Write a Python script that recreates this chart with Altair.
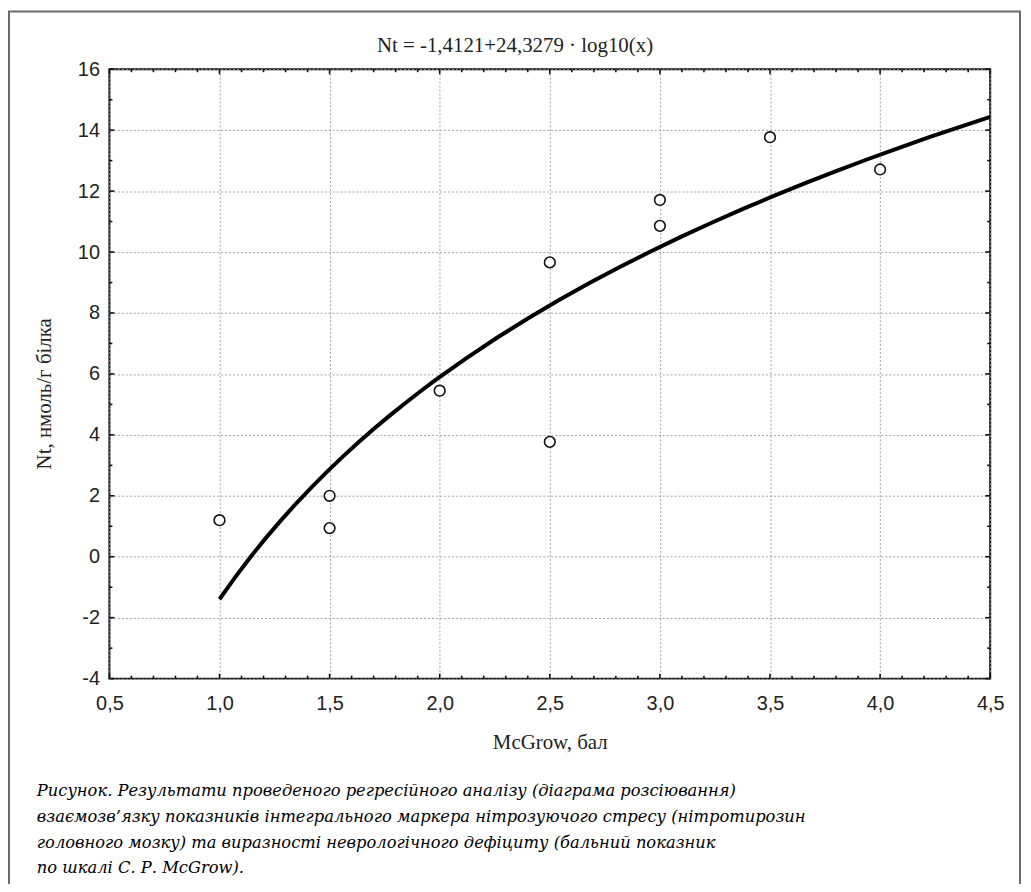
import altair as alt
import pandas as pd

# ---- data ----
mcgrow = [1.0, 1.5, 1.5, 2.0, 2.5, 2.5, 3.0, 3.0, 3.5, 4.0]
nt = [1.2, 2.0, 0.94, 5.45, 9.66, 3.77, 11.71, 10.86, 13.77, 12.71]

x_major = [0.5, 1.0, 1.5, 2.0, 2.5, 3.0, 3.5, 4.0, 4.5]
x_minor = [0.6, 0.7, 0.8, 0.9, 1.1, 1.2, 1.3, 1.4, 1.6, 1.7, 1.8, 1.9,
           2.1, 2.2, 2.3, 2.4, 2.6, 2.7, 2.8, 2.9, 3.1, 3.2, 3.3, 3.4,
           3.6, 3.7, 3.8, 3.9, 4.1, 4.2, 4.3, 4.4]
y_major = [-4, -2, 0, 2, 4, 6, 8, 10, 12, 14, 16]
y_minor = [-3, -1, 1, 3, 5, 7, 9, 11, 13, 15]

title_text = "Nt = -1,4121+24,3279 · log10(x)"
x_title = "McGrow, бал"
y_title = "Nt, нмоль/г білка"
caption_lines = [
    "Рисунок. Результати проведеного регресійного аналізу (діаграма розсіювання)",
    "взаємозв’язку показників інтегрального маркера нітрозуючого стресу (нітротирозин",
    "головного мозку) та виразності неврологічного дефіциту (бальний показник",
    "по шкалі С. Р. McGrow).",
]

W, H = 886, 613
PAD_L, PAD_T, PAD_R, PAD_B = 102, 59, 33, 204

xs = alt.Scale(domain=[0.5, 4.5], nice=False, zero=False)
ys = alt.Scale(domain=[-4, 16], nice=False, zero=False)

pts_df = pd.DataFrame({"x": mcgrow, "y": nt})
one = pd.DataFrame({"a": [0]})

x_axis = alt.Axis(
    values=x_major, title=x_title, grid=True, gridDash=[2, 2], gridColor="#a0a0a0",
    gridWidth=1, ticks=False, domain=False, labelFlush=False, labelOverlap=False,
    labelExpr="replace(format(datum.value, '.1f'), '.', ',')",
    labelFont="Liberation Sans", labelFontSize=20, labelColor="#222", labelPadding=15,
    titleFont="Liberation Serif", titleFontSize=21, titleFontWeight="normal", titleColor="#222",
    titleY=64, titleBaseline="middle",
)
y_axis = alt.Axis(
    values=y_major, title=y_title, grid=True, gridDash=[2, 2], gridColor="#a0a0a0",
    gridWidth=1, ticks=False, domain=False, labelFlush=False, labelOverlap=False,
    labelExpr="toString(datum.value)",
    labelFont="Liberation Sans", labelFontSize=20, labelColor="#222", labelPadding=10,
    titleFont="Liberation Serif", titleFontSize=21, titleFontWeight="normal", titleColor="#222",
    titleX=-65, titleY=326, titleAngle=-90, titleBaseline="middle", titleAlign="center",
)

X = alt.X("x:Q", scale=xs, axis=x_axis)
Y = alt.Y("y:Q", scale=ys, axis=y_axis)

curve = alt.Chart(pts_df).transform_regression(
    "x", "y", method="log", extent=[1.0, 4.5]
).mark_line(color="#000", strokeWidth=4, clip=True).encode(x=X, y=Y)

points = alt.Chart(pts_df).mark_point(
    shape="circle", filled=True, fill="white", stroke="#111", strokeWidth=1.6, size=115, opacity=1
).encode(x=X, y=Y)

xmaj_df = pd.DataFrame({"x": x_major})
xmin_df = pd.DataFrame({"x": x_minor})
ymaj_df = pd.DataFrame({"y": y_major})
ymin_df = pd.DataFrame({"y": y_minor})

def xticks(df, length):
    bot = alt.Chart(df).mark_rule(color="#111", strokeWidth=1.6).encode(
        x=X, y=alt.value(H), y2=alt.value(H - length))
    top = alt.Chart(df).mark_rule(color="#111", strokeWidth=1.6).encode(
        x=X, y=alt.value(0), y2=alt.value(length))
    return [bot, top]

def yticks(df, length):
    left = alt.Chart(df).mark_rule(color="#111", strokeWidth=1.6).encode(
        y=Y, x=alt.value(0), x2=alt.value(length))
    right = alt.Chart(df).mark_rule(color="#111", strokeWidth=1.6).encode(
        y=Y, x=alt.value(W), x2=alt.value(W - length))
    return [left, right]

ticks = xticks(xmaj_df, 5) + xticks(xmin_df, 3) + yticks(ymaj_df, 5) + yticks(ymin_df, 3)

outer = alt.Chart(one).mark_rect(fillOpacity=0, stroke="#6a6a6a", strokeWidth=2).encode(
    x=alt.value(-101), x2=alt.value(W + PAD_R - 3), y=alt.value(-58), y2=alt.value(H + PAD_B + 20)
)

title = alt.Chart(one).mark_text(
    text=title_text, font="Liberation Serif", fontSize=21, color="#222", align="center", baseline="middle"
).encode(x=alt.value(408), y=alt.value(-23))

caption = alt.Chart(one).mark_text(
    font="DejaVu Serif", fontStyle="italic", fontSize=16.4, color="#000", align="left",
    baseline="middle", lineHeight=26,
).encode(x=alt.value(-73), y=alt.value(726), text=alt.value(caption_lines))

chart = alt.layer(outer, title, caption, curve, *ticks, points).properties(
    width=W, height=H,
    autosize=alt.AutoSizeParams(type="none"),
    padding={"left": PAD_L, "top": PAD_T, "right": PAD_R, "bottom": PAD_B},
    background="white",
).configure_view(stroke="#111", strokeWidth=2)

chart.save("out.html", embed_options={"renderer": "svg", "actions": False})
